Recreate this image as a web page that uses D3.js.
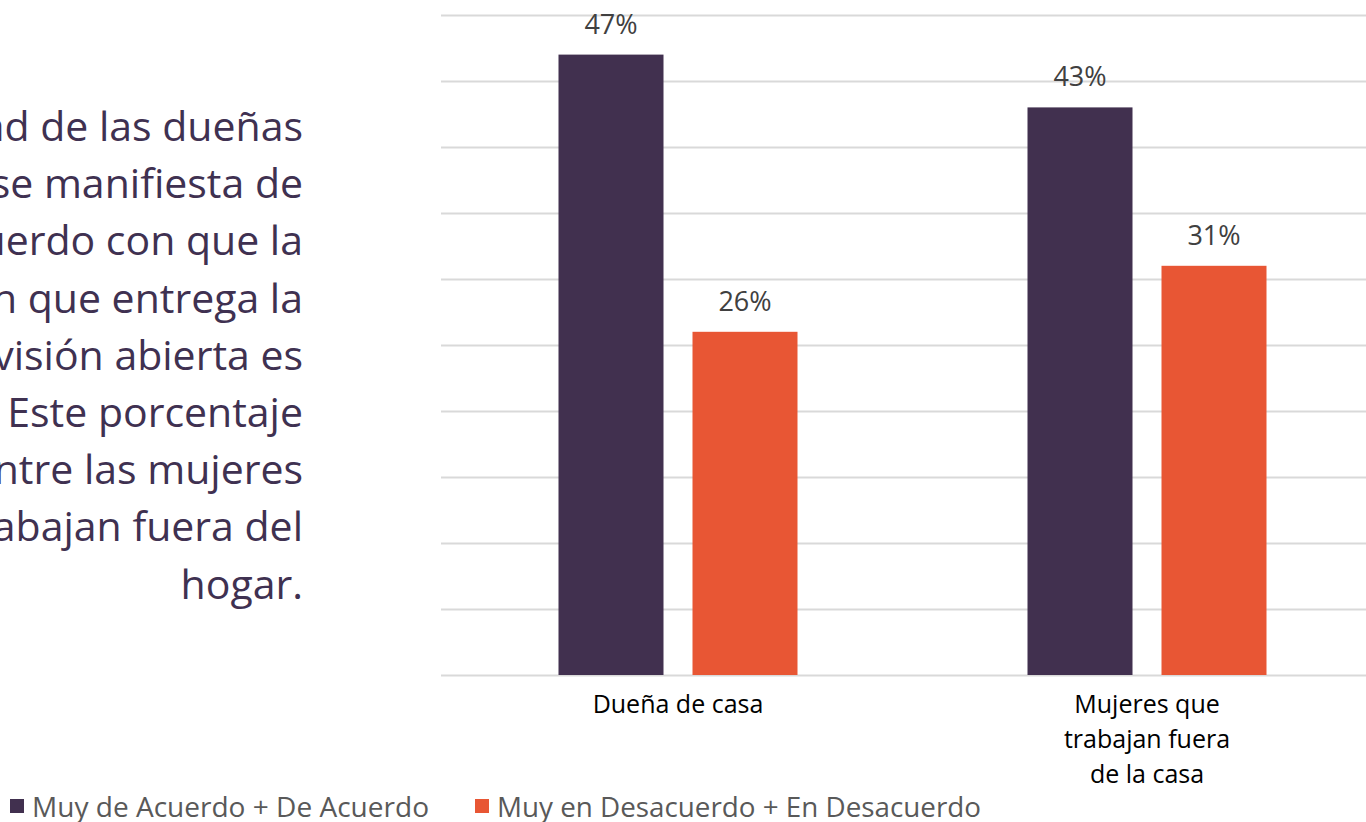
<!DOCTYPE html>
<html lang="es">
<head>
<meta charset="utf-8">
<title>Confianza en la televisión abierta</title>
<script src="https://d3js.org/d3.v7.min.js"></script>
<style>
  html, body { margin: 0; padding: 0; background: #fff; overflow: hidden; }
  svg { display: block; font-family: "Open Sans", "Noto Sans", sans-serif; }
</style>
</head>
<body>
<script>
// datos
var categorias = ["Dueña de casa", "Mujeres que trabajan fuera de la casa"];
var catLineas = [["Dueña de casa"], ["Mujeres que", "trabajan fuera", "de la casa"]];
var series = ["Muy de Acuerdo + De Acuerdo", "Muy en Desacuerdo + En Desacuerdo"];
var acuerdo = [0.47, 0.43];
var desacuerdo = [0.26, 0.31];
var colores = ["#41304F", "#E85634"];
var textoLateral = [
  "La mitad de las dueñas",
  "de casa se manifiesta de",
  "acuerdo con que la",
  "información que entrega la",
  "televisión abierta es",
  "confiable. Este porcentaje",
  "baja entre las mujeres",
  "que trabajan fuera del",
  "hogar."
];

var W = 1366, H = 822;
var svg = d3.select("body").append("svg")
  .attr("width", W)
  .attr("height", H);

// texto a la izquierda (recortado por el borde, como en el original)
svg.append("g").selectAll("text")
  .data(textoLateral)
  .enter().append("text")
  .attr("x", 303)
  .attr("y", function(d, i){ return 141 + i * 57.2; })
  .attr("text-anchor", "end")
  .attr("fill", "#3F3151")
  .style("font-size", "41px")
  .text(function(d){ return d; });

// escalas
var y = d3.scaleLinear().domain([0, 0.5]).range([675, 15]);
var x0 = d3.scaleBand().domain(categorias).range([443.5, 1381.5]);
var x1 = d3.scaleBand().domain(series).range([-119.5, 119.5]).paddingInner(29 / 134);

// lineas de cuadricula
svg.append("g").selectAll("line")
  .data(y.ticks(10))
  .enter().append("line")
  .attr("x1", 441)
  .attr("x2", W)
  .attr("y1", function(d){ return Math.round(y(d)) + 0.5; })
  .attr("y2", function(d){ return Math.round(y(d)) + 0.5; })
  .attr("stroke", "#D9D9D9")
  .attr("stroke-width", 2);

// barras
var datos = [];
categorias.forEach(function(c, i){
  datos.push({cat: c, serie: series[0], v: acuerdo[i], color: colores[0]});
  datos.push({cat: c, serie: series[1], v: desacuerdo[i], color: colores[1]});
});

var centro = function(c){ return x0(c) + x0.bandwidth() / 2; };

svg.append("g").selectAll("rect")
  .data(datos)
  .enter().append("rect")
  .attr("x", function(d){ return centro(d.cat) + x1(d.serie); })
  .attr("y", function(d){ return y(d.v); })
  .attr("width", x1.bandwidth())
  .attr("height", function(d){ return y(0) - y(d.v); })
  .attr("fill", function(d){ return d.color; });

// etiquetas de valor
svg.append("g").selectAll("text")
  .data(datos)
  .enter().append("text")
  .attr("x", function(d){ return centro(d.cat) + x1(d.serie) + x1.bandwidth() / 2; })
  .attr("y", function(d){ return y(d.v) - 21; })
  .attr("text-anchor", "middle")
  .attr("fill", "#404040")
  .style("font-size", "27px")
  .text(function(d){ return Math.round(d.v * 100) + "%"; });

// etiquetas de categoria
var cats = svg.append("g").selectAll("text")
  .data(categorias)
  .enter().append("text")
  .attr("text-anchor", "middle")
  .attr("fill", "#000")
  .style("font-size", "25px");

cats.selectAll("tspan")
  .data(function(d, i){ return catLineas[i].map(function(l){ return {l: l, c: d}; }); })
  .enter().append("tspan")
  .attr("x", function(d){ return centro(d.c); })
  .attr("y", function(d, j){ return 713 + j * 35; })
  .text(function(d){ return d.l; });

// leyenda
var leyX = [10, 475];
var leyAncho = [397, 484];
var ley = svg.append("g").selectAll("g")
  .data(series)
  .enter().append("g")
  .attr("transform", function(d, i){ return "translate(" + leyX[i] + ",0)"; });

ley.append("rect")
  .attr("x", 0)
  .attr("y", 799)
  .attr("width", 14)
  .attr("height", 14)
  .attr("fill", function(d, i){ return colores[i]; });

ley.append("text")
  .attr("x", 22)
  .attr("y", 817)
  .attr("fill", "#595959")
  .style("font-size", "27px")
  .attr("textLength", function(d, i){ return leyAncho[i]; })
  .attr("lengthAdjust", "spacingAndGlyphs")
  .text(function(d){ return d; });
</script>
</body>
</html>
